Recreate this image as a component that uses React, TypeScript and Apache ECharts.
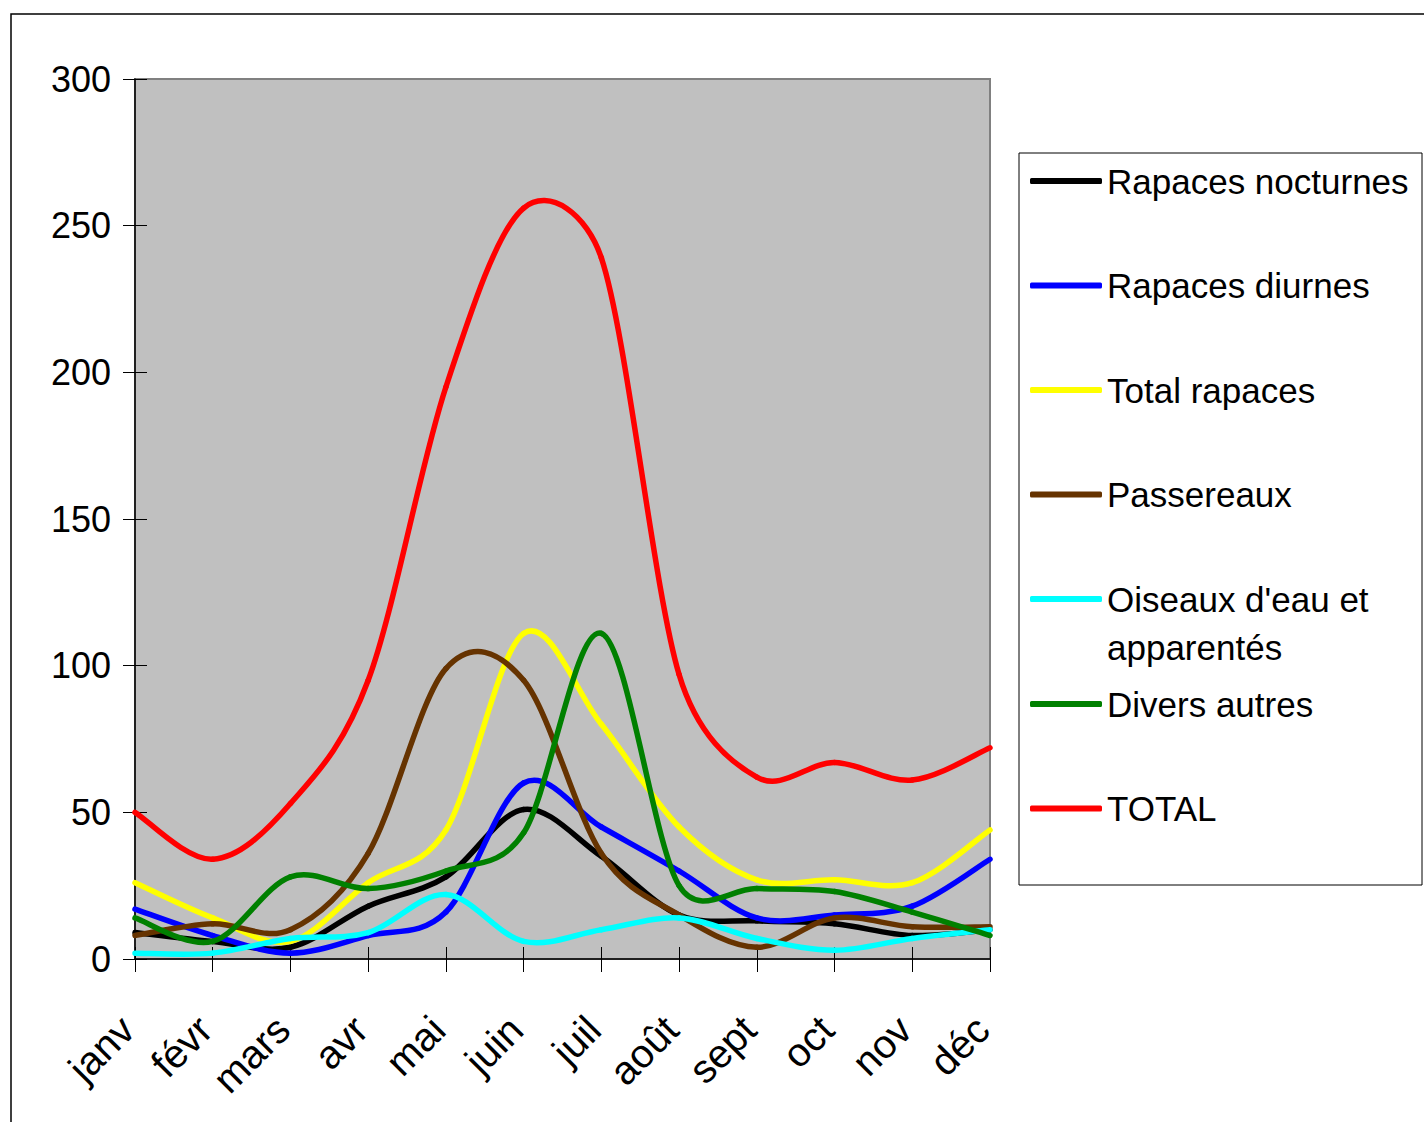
import React, { useEffect, useRef } from "react";
import * as echarts from "echarts";

const months = ["janv", "févr", "mars", "avr", "mai", "juin", "juil", "août", "sept", "oct", "nov", "déc"];
const seriesNames = [
  "Rapaces nocturnes",
  "Rapaces diurnes",
  "Total rapaces",
  "Passereaux",
  "Oiseaux d'eau et\napparentés",
  "Divers autres",
  "TOTAL",
];
const rapacesNocturnes = [9, 6, 4, 18, 28, 51, 35, 15, 13, 12, 8, 10];
const rapacesDiurnes = [17, 8, 2, 8, 16, 60, 45, 30, 14, 15, 18, 34];
const totalRapaces = [26, 14, 6, 26, 44, 111, 80, 45, 27, 27, 26, 44];
const passereaux = [8, 12, 10, 36, 99, 95, 36, 15, 4, 14, 11, 11];
const oiseauxEau = [2, 2, 7, 9, 22, 6, 10, 14, 7, 3, 7, 10];
const diversAutres = [14, 6, 28, 24, 30, 43, 111, 25, 24, 23, 16, 8];
const totalGeneral = [50, 34, 53, 95, 195, 256, 239, 97, 62, 67, 61, 72];
const colors = ["#000000", "#0000FF", "#FFFF00", "#663300", "#00FFFF", "#008000", "#FF0000"];
const yTicks = { min: 0, max: 300, interval: 50 };

const FONT = "'Liberation Sans', Arial, sans-serif";

// Excel-like smoothing: Bezier with tension 1/6, arms limited to half the segment length
function makeRenderItem(color: string, count: number) {
  return (params: any, api: any) => {
    const i = params.dataIndex;
    if (i >= count - 1) return null;
    const clamp = (k: number) => Math.max(0, Math.min(count - 1, k));
    const pt = (k: number) => {
      const c = clamp(k);
      return api.coord([api.value(0, c), api.value(1, c)]);
    };
    const p0 = pt(i - 1);
    const p1 = pt(i);
    const p2 = pt(i + 1);
    const p3 = pt(i + 2);
    const dist = (a: number[], b: number[]) => Math.hypot(a[0] - b[0], a[1] - b[1]);
    const d12 = dist(p1, p2);
    const d02 = dist(p0, p2);
    const d13 = dist(p1, p3);
    let f1 = 1 / 6;
    let f2 = 1 / 6;
    if (d02 / 6 > d12 / 2 && d02 > 0) f1 = d12 / (2 * d02);
    if (d13 / 6 > d12 / 2 && d13 > 0) f2 = d12 / (2 * d13);
    return {
      type: "bezierCurve",
      shape: {
        x1: p1[0],
        y1: p1[1],
        x2: p2[0],
        y2: p2[1],
        cpx1: p1[0] + (p2[0] - p0[0]) * f1,
        cpy1: p1[1] + (p2[1] - p0[1]) * f1,
        cpx2: p2[0] - (p3[0] - p1[0]) * f2,
        cpy2: p2[1] - (p3[1] - p1[1]) * f2,
      },
      style: { stroke: color, lineWidth: 5.5, fill: null, lineCap: "round", lineJoin: "round" },
    };
  };
}

export default function App() {
  const ref = useRef<HTMLDivElement>(null);
  useEffect(() => {
    if (!ref.current) return;
    const chart = echarts.init(ref.current, undefined, { renderer: "svg" });
    const values = [rapacesNocturnes, rapacesDiurnes, totalRapaces, passereaux, oiseauxEau, diversAutres, totalGeneral];
    const legendCommon = {
      orient: "vertical",
      left: 1030,
      padding: 0,
      itemGap: 56.5,
      itemWidth: 72,
      itemHeight: 6,
      icon: "roundRect",
      itemStyle: { borderWidth: 0 },
      textStyle: { fontSize: 35, lineHeight: 48, fontFamily: FONT, color: "#000" },
      selectedMode: false,
    };
    chart.setOption({
      animation: false,
      backgroundColor: "#ffffff",
      graphic: [
        { type: "rect", shape: { x: 11, y: 14, width: 1600, height: 1300 }, style: { fill: "none", stroke: "#000", lineWidth: 1.5 }, silent: true },
        { type: "rect", shape: { x: 1019, y: 153, width: 403, height: 732 }, style: { fill: "#fff", stroke: "#000", lineWidth: 1 }, silent: true },
      ],
      legend: [
        { ...legendCommon, top: 157, data: seriesNames.slice(0, 4) },
        { ...legendCommon, top: 527, data: seriesNames.slice(4, 5), formatter: "\n{name}" },
        { ...legendCommon, top: 680, data: seriesNames.slice(5) },
      ],
      grid: {
        left: 135,
        top: 79,
        right: 434,
        bottom: 163,
        show: true,
        backgroundColor: "#C0C0C0",
        borderColor: "#808080",
        borderWidth: 2,
      },
      xAxis: [
        {
          type: "category",
          data: months,
          boundaryGap: false,
          axisLine: { onZero: false, lineStyle: { color: "#000", width: 1.5 } },
          axisTick: { length: 13, lineStyle: { color: "#000" }, interval: 0 },
          axisLabel: {
            rotate: 45,
            interval: 0,
            margin: 56,
            padding: [0, 11, 41, 0],
            fontSize: 40,
            fontFamily: FONT,
            color: "#000",
          },
          splitLine: { show: false },
        },
        {
          type: "category",
          data: months,
          boundaryGap: false,
          position: "bottom",
          axisLine: { show: false, onZero: false },
          axisTick: { inside: true, length: 12, lineStyle: { color: "#000" }, interval: 0 },
          axisLabel: { show: false },
          splitLine: { show: false },
        },
      ],
      yAxis: [
        {
          type: "value",
          min: yTicks.min,
          max: yTicks.max,
          interval: yTicks.interval,
          axisLine: { show: true, lineStyle: { color: "#000", width: 1.5 } },
          axisTick: { show: true, length: 12, lineStyle: { color: "#000" } },
          axisLabel: { fontSize: 36, fontFamily: FONT, color: "#000", margin: 24 },
          splitLine: { show: false },
        },
        {
          type: "value",
          min: yTicks.min,
          max: yTicks.max,
          interval: yTicks.interval,
          position: "left",
          axisLine: { show: false },
          axisTick: { show: true, inside: true, length: 12, lineStyle: { color: "#000" } },
          axisLabel: { show: false },
          splitLine: { show: false },
        },
      ],
      series: seriesNames.map((name, i) => ({
        name,
        type: "custom",
        xAxisIndex: 0,
        yAxisIndex: 0,
        data: values[i].map((v, k) => [k, v]),
        encode: { x: 0, y: 1 },
        renderItem: makeRenderItem(colors[i], values[i].length),
        itemStyle: { color: colors[i] },
        silent: true,
        emphasis: { disabled: true },
      })),
    });
    return () => chart.dispose();
  }, []);
  return (
    <div
      ref={ref}
      style={{ position: "fixed", left: 0, top: 0, width: 1424, height: 1122, background: "#fff" }}
    />
  );
}
